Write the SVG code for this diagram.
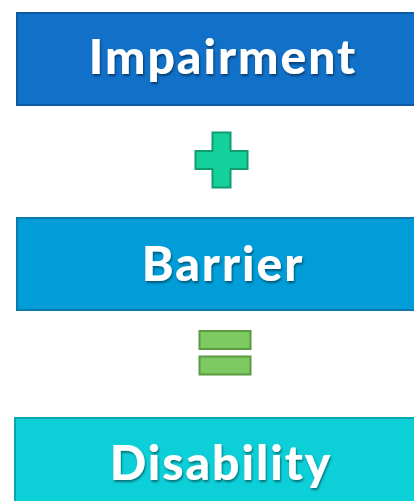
<svg xmlns="http://www.w3.org/2000/svg" width="414" height="501" viewBox="0 0 414 501">
<style>
.lbl{font-family:Lato,"Open Sans","Liberation Sans",sans-serif;font-weight:900;font-size:48px;letter-spacing:2px;fill:#ffffff;text-anchor:middle;filter:url(#sh)}
.box{stroke-width:2}
</style>
<defs>
<filter id="sh" x="-10%" y="-30%" width="120%" height="160%">
<feDropShadow dx="1" dy="2" stdDeviation="1.2" flood-color="#000000" flood-opacity="0.45"/>
</filter>
</defs>
<rect x="0" y="0" width="414" height="501" fill="#ffffff"/>
<g id="impairment">
<rect class="box" x="17" y="13" width="410" height="92" fill="#1170C8" stroke="#0E5AA2"/>
<text class="lbl" x="223" y="74">Impairment</text>
</g>
<g id="plus">
<path d="M212.5 132.5 H230.5 V151 H247.5 V169 H230.5 V187.5 H212.5 V169 H195.5 V151 H212.5 Z" fill="#14D09C" stroke="#0E9C72" stroke-width="2"/>
</g>
<g id="barrier">
<rect class="box" x="17" y="218" width="410" height="92" fill="#009DD8" stroke="#0A7BAE"/>
<text class="lbl" x="223" y="281">Barrier</text>
</g>
<g id="equals">
<rect x="199.5" y="331" width="51" height="18" fill="#7DCA62" stroke="#5B9A40" stroke-width="2"/>
<rect x="199.5" y="356.5" width="51" height="18" fill="#7DCA62" stroke="#5B9A40" stroke-width="2"/>
</g>
<g id="disability">
<rect class="box" x="15" y="418" width="412" height="100" fill="#0DCFD8" stroke="#0AA6AE"/>
<text class="lbl" x="221" y="480" letter-spacing="1.5">Disability</text>
</g>
<g id="connectors"></g>
</svg>
